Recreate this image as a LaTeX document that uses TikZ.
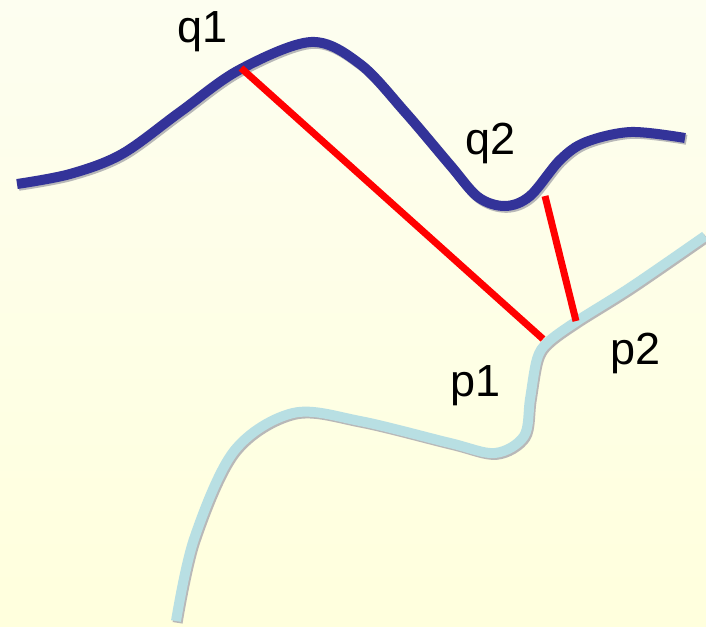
\documentclass[tikz,border=0pt]{standalone}
\usepackage{fontspec}
\setmainfont{Liberation Sans}
\begin{document}
\begin{tikzpicture}[x=1pt,y=-1pt,
  curve/.style={line width=10pt, line cap=butt, line join=round},
  dropline/.style={curve, draw=black!28, shift={(1.6,1.8)}},
  seg/.style={draw=red, line width=7pt, line cap=butt},
  lbl/.style={font=\fontsize{45}{45}\selectfont, inner sep=0pt, anchor=base west}]
\definecolor{bgtop}{RGB}{253,254,240}
\definecolor{bgbot}{RGB}{255,255,221}
\definecolor{curveq}{RGB}{51,51,153}
\definecolor{curvep}{RGB}{184,223,227}
% background
\fill[top color=bgtop, bottom color=bgbot] (0,0) rectangle (706,626);
\useasboundingbox (0,0) rectangle (706,626);
% curves Q (dark blue) and P (light blue), each with a drop shadow
\def\qpath{plot[smooth, tension=0.55] coordinates {(17,184) (70,174) (122,154) (180,112) (239,70) (311,42) (360,64) (405,112) (450,165) (478,197) (505,206) (530,196) (560,160) (586,142) (631,132) (685,138)}}
\def\ppath{plot[smooth, tension=0.55] coordinates {(176,621) (194,539) (234,451) (293,413) (360,421) (450,443) (495,453) (524,436) (530,399) (537,359) (548,342) (577,321) (631,287) (705,236)}}
\draw[dropline] \qpath;
\draw[curve, draw=curveq] \qpath;
\draw[dropline] \ppath;
\draw[curve, draw=curvep] \ppath;
% closest-point pairs
\coordinate (q1) at (241,68);
\coordinate (p1) at (543,339);
\coordinate (q2) at (545,196);
\coordinate (p2) at (576,321);
\draw[seg] (q1) -- (p1);
\draw[seg] (q2) -- (p2);
% labels
\node[lbl] (lq1) at (177,42) {q1};
\node[lbl] (lq2) at (465,154) {q2};
\node[lbl] (lp1) at (450,396) {p1};
\node[lbl] (lp2) at (610,364) {p2};
\end{tikzpicture}
\end{document}
